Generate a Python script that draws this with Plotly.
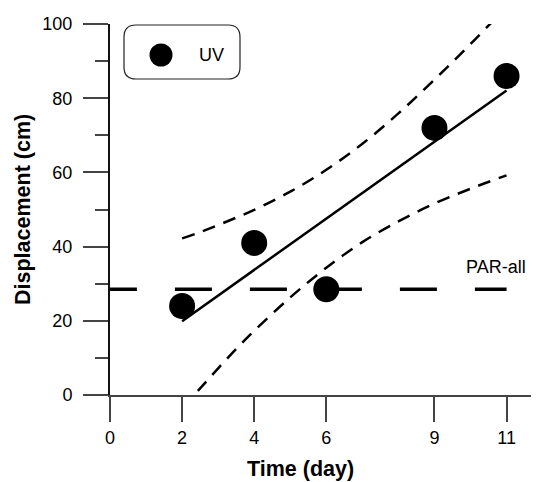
import plotly.graph_objects as go

# ---- data ----
days = [2, 4, 6, 9, 11]
uv_displacement = [24, 41, 28.5, 72, 86]

fit_x = [2, 11]
fit_y = [19.9, 82.1]

band_x = [2, 2.5, 3, 3.5, 4, 5, 6, 7, 8, 9, 10, 11]
band_upper = [42.2, 43.9, 45.8, 47.8, 49.9, 54.8, 60.7, 67.7, 75.9, 85.0, 94.6, 104.6]
band_lower = [-3.2, 1.8, 7.2, 12.4, 17.3, 26.3, 34.3, 41.2, 46.8, 51.6, 55.6, 59.2]

par_x = [-0.28, 11.0]
par_y = [28.5, 28.5]

x_ticks = [0, 2, 4, 6, 9, 11]
y_ticks = [0, 20, 40, 60, 80, 100]

FONT = "Liberation Sans, Arial, Helvetica, sans-serif"

# the page body adds an 8px offset; figure coordinates = screen - 8
OFF = 8
SW, SH = 539, 482                 # window
PL, PR, PT, PB = 110, 539, 24, 395  # plot area in screen pixels
W, H = SW - OFF, SH - OFF
ML, MT = PL - OFF, PT - OFF
MR = W - (PR - OFF)
MB = H - (PB - OFF)
PW, PH = PR - PL, PB - PT


def px(x):
    return (x - PL) / PW


def py(y):
    return (PB - y) / PH


fig = go.Figure()

fig.add_trace(go.Scatter(x=par_x, y=par_y, mode="lines",
                         line=dict(color="black", width=3.5, dash="37px,38px"),
                         showlegend=False, hoverinfo="skip"))
fig.add_trace(go.Scatter(x=band_x, y=band_upper, mode="lines",
                         line=dict(color="black", width=2.5, dash="13px,9px", shape="spline"),
                         showlegend=False))
fig.add_trace(go.Scatter(x=band_x, y=band_lower, mode="lines",
                         line=dict(color="black", width=2.5, dash="13px,9px", shape="spline"),
                         showlegend=False))
fig.add_trace(go.Scatter(x=fit_x, y=fit_y, mode="lines",
                         line=dict(color="black", width=2.5),
                         showlegend=False))
fig.add_trace(go.Scatter(x=days, y=uv_displacement, mode="markers",
                         marker=dict(color="black", size=26),
                         name="UV", showlegend=False, cliponaxis=False))

# custom rounded legend box
x0, x1 = px(124), px(240)
yt, yb = py(25), py(79)
rx, ry = 12 / PW, 12 / PH
path = (f"M {x0+rx},{yt} L {x1-rx},{yt} Q {x1},{yt} {x1},{yt-ry} "
        f"L {x1},{yb+ry} Q {x1},{yb} {x1-rx},{yb} "
        f"L {x0+rx},{yb} Q {x0},{yb} {x0},{yb+ry} "
        f"L {x0},{yt-ry} Q {x0},{yt} {x0+rx},{yt} Z")
shapes = [
    dict(type="path", path=path, xref="paper", yref="paper",
         line=dict(color="#222", width=1.2), fillcolor="rgba(0,0,0,0)"),
    dict(type="circle", xref="paper", yref="paper",
         x0=px(149.5), x1=px(172.5), y0=py(66.5), y1=py(43.5),
         fillcolor="black", line=dict(color="black", width=0)),
]

annotations = [
    dict(text="UV", xref="paper", yref="paper", x=px(197), y=py(55),
         xanchor="left", yanchor="middle", showarrow=False,
         font=dict(family=FONT, size=18, color="black")),
    dict(text="PAR-all", xref="paper", yref="paper", x=px(496), y=py(267),
         xanchor="center", yanchor="middle", showarrow=False,
         font=dict(family=FONT, size=18, color="black")),
    dict(text="<b>Time (day)</b>", xref="paper", yref="paper", x=px(300), y=py(469),
         xanchor="center", yanchor="middle", showarrow=False,
         font=dict(family=FONT, size=21.5, color="black")),
    dict(text="<b>Displacement (cm)</b>", xref="paper", yref="paper", x=px(23), y=py(210),
         xanchor="center", yanchor="middle", showarrow=False, textangle=-90,
         font=dict(family=FONT, size=21.5, color="black")),
]

fig.update_layout(
    width=W, height=H,
    margin=dict(l=ML, r=MR, t=MT, b=MB, pad=0, autoexpand=False),
    plot_bgcolor="white", paper_bgcolor="white",
    font=dict(family=FONT, size=18, color="black"),
    shapes=shapes, annotations=annotations,
    showlegend=False,
)
fig.update_xaxes(range=[0, 11.9], tickvals=x_ticks, ticktext=[str(v) for v in x_ticks],
                 showgrid=False, zeroline=False, showline=True, linecolor="#444", linewidth=2,
                 ticks="outside", ticklen=25, tickwidth=2, tickcolor="#444",
                 tickfont=dict(family=FONT, size=18, color="black"))
fig.update_yaxes(range=[0, 100], tickvals=y_ticks, ticktext=[str(v) for v in y_ticks],
                 showgrid=False, zeroline=False, showline=True, linecolor="#111", linewidth=2,
                 ticks="outside", ticklen=25, tickwidth=2, tickcolor="#444",
                 ticklabelstandoff=7,
                 minor=dict(tickvals=[10, 30, 50, 70, 90], ticks="outside", ticklen=13,
                            tickwidth=2, tickcolor="#444"),
                 tickfont=dict(family=FONT, size=18, color="black"))

fig.write_html("out.html")
